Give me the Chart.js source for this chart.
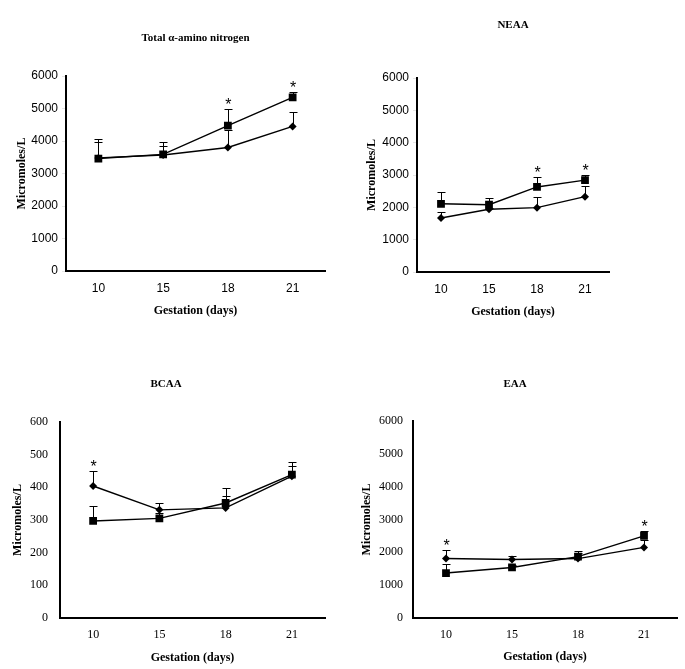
<!DOCTYPE html>
<html>
<head>
<meta charset="utf-8">
<script src="https://cdn.jsdelivr.net/npm/chart.js@4.4.0/dist/chart.umd.min.js"></script>
<style>
  body { margin: 0; background: #fff; width: 685px; height: 669px; position: relative; overflow: hidden; }
  canvas { position: absolute; }
</style>
</head>
<body>
<canvas id="tan" width="340" height="330" style="left:0;top:0"></canvas>
<canvas id="neaa" width="345" height="330" style="left:340px;top:0"></canvas>
<canvas id="bcaa" width="340" height="334" style="left:0;top:335px"></canvas>
<canvas id="eaa" width="345" height="334" style="left:340px;top:335px"></canvas>
<script>
// Gestation days (x categories)
const days = ['10', '15', '18', '21'];

// Total alpha-amino nitrogen, micromoles/L (mean and SD)
const tanSquare = [3460, 3590, 4470, 5340];
const tanSquareSd = [600, 370, 530, 160];
const tanDiamond = [3480, 3570, 3800, 4450];
const tanDiamondSd = [490, 270, 530, 450];
const tanSig = [false, false, true, true];

// NEAA
const neaaSquare = [2110, 2080, 2630, 2840];
const neaaSquareSd = [350, 210, 310, 170];
const neaaDiamond = [1670, 1940, 1990, 2330];
const neaaDiamondSd = [200, 50, 330, 320];
const neaaSig = [false, false, true, true];

// BCAA
const bcaaSquare = [297, 305, 352, 439];
const bcaaSquareSd = [46, 15, 45, 39];
const bcaaDiamond = [404, 331, 337, 434];
const bcaaDiamondSd = [45, 20, 38, 31];
const bcaaSig = [true, false, false, false];

// EAA
const eaaSquare = [1370, 1540, 1870, 2500];
const eaaSquareSd = [270, 60, 160, 140];
const eaaDiamond = [1810, 1780, 1810, 2150];
const eaaDiamondSd = [260, 120, 180, 240];
const eaaSig = [true, false, false, true];

Chart.defaults.color = '#000';
Chart.defaults.font.family = 'Liberation Serif';

// upper SD bars behind the markers, asterisks above the highest cap
const errorBars = {
  id: 'errorBars',
  beforeDatasetsDraw(chart) {
    const ctx = chart.ctx;
    const y = chart.scales.y;
    ctx.save();
    ctx.strokeStyle = '#000';
    ctx.lineWidth = 1;
    chart.data.datasets.forEach((ds, i) => {
      chart.getDatasetMeta(i).data.forEach((pt, j) => {
        const x = Math.round(pt.x) + 0.5;
        const top = Math.round(y.getPixelForValue(ds.data[j] + ds.sd[j])) + 0.5;
        ctx.beginPath();
        ctx.moveTo(x, pt.y);
        ctx.lineTo(x, top);
        ctx.moveTo(x - 4, top);
        ctx.lineTo(x + 4, top);
        ctx.stroke();
      });
    });
    ctx.restore();
  },
  afterDatasetsDraw(chart, args, opts) {
    const ctx = chart.ctx;
    const y = chart.scales.y;
    ctx.save();
    ctx.fillStyle = '#000';
    ctx.font = '16px "Liberation Sans"';
    ctx.textAlign = 'center';
    ctx.textBaseline = 'alphabetic';
    (opts.sig || []).forEach((on, j) => {
      if (!on) return;
      let top = Infinity;
      let x = 0;
      chart.data.datasets.forEach((ds, i) => {
        const pt = chart.getDatasetMeta(i).data[j];
        x = pt.x;
        top = Math.min(top, y.getPixelForValue(ds.data[j] + ds.sd[j]));
      });
      ctx.fillText('*', x + 0.5, top + 1);
    });
    ctx.restore();
  }
};

function makePanel(id, p) {
  const tickFont = { family: p.tickFamily, size: 12 };
  const bold = { family: 'Liberation Serif', size: 12, weight: 'bold' };
  return new Chart(document.getElementById(id), {
    type: 'line',
    data: {
      labels: days,
      datasets: [{
        label: 'Square',
        data: p.square,
        sd: p.squareSd,
        borderColor: '#000',
        borderWidth: 1.4,
        pointStyle: 'rect',
        pointRadius: 5.5,
        pointBackgroundColor: '#000',
        pointBorderColor: '#000',
        pointBorderWidth: 0,
        tension: 0
      }, {
        label: 'Diamond',
        data: p.diamond,
        sd: p.diamondSd,
        borderColor: '#000',
        borderWidth: 1.4,
        pointStyle: 'rectRot',
        pointRadius: 4,
        pointBackgroundColor: '#000',
        pointBorderColor: '#000',
        pointBorderWidth: 0,
        tension: 0
      }]
    },
    options: {
      responsive: false,
      animation: false,
      layout: { padding: { left: p.padLeft, right: p.padRight, top: 0, bottom: p.padBottom } },
      plugins: {
        legend: { display: false },
        tooltip: { enabled: false },
        title: {
          display: true,
          text: p.title,
          fullSize: p.titleFull,
          color: '#000',
          font: { family: 'Liberation Serif', size: 11, weight: 'bold' },
          padding: { top: p.titleTop, bottom: p.titleBottom }
        },
        errorBars: { sig: p.sig }
      },
      scales: {
        x: {
          offset: true,
          grid: { drawOnChartArea: false, drawTicks: false },
          border: { color: '#000', width: 2 },
          ticks: { font: tickFont, color: '#000', padding: 10 },
          title: { display: true, text: 'Gestation (days)', font: bold, color: '#000', padding: 0 },
          afterFit: s => { s.height = p.xHeight; }
        },
        y: {
          min: 0,
          max: p.yMax,
          grid: { drawOnChartArea: false, drawTicks: p.yTicks, tickLength: 4 },
          border: { color: '#000', width: 2 },
          ticks: {
            stepSize: p.yStep,
            font: tickFont,
            color: '#000',
            padding: p.yPad,
            callback: v => String(v)
          },
          title: { display: true, text: 'Micromoles/L', font: bold, color: '#000', padding: { top: p.yTitlePad, bottom: 0 } },
          afterFit: s => { s.width = p.yWidth; }
        }
      }
    },
    plugins: [errorBars]
  });
}

makePanel('tan', {
  title: 'Total \u03b1-amino nitrogen', titleFull: false, titleTop: 31.4, titleBottom: 31.4,
  square: tanSquare, squareSd: tanSquareSd, diamond: tanDiamond, diamondSd: tanDiamondSd, sig: tanSig,
  yMax: 6000, yStep: 1000, tickFamily: 'Liberation Sans', yTicks: true, yPad: 4,
  padLeft: 10, padRight: 15, padBottom: 11.8, yWidth: 56, yTitlePad: 4.8, xHeight: 47.2
});

makePanel('neaa', {
  title: 'NEAA', titleFull: false, titleTop: 18.4, titleBottom: 46.4,
  square: neaaSquare, squareSd: neaaSquareSd, diamond: neaaDiamond, diamondSd: neaaDiamondSd, sig: neaaSig,
  yMax: 6000, yStep: 1000, tickFamily: 'Liberation Sans', yTicks: true, yPad: 4,
  padLeft: 20, padRight: 76, padBottom: 10.8, yWidth: 57, yTitlePad: 4.8, xHeight: 47.2
});

makePanel('bcaa', {
  title: 'BCAA', titleFull: true, titleTop: 42.4, titleBottom: 31.4,
  square: bcaaSquare, squareSd: bcaaSquareSd, diamond: bcaaDiamond, diamondSd: bcaaDiamondSd, sig: bcaaSig,
  yMax: 600, yStep: 100, tickFamily: 'Liberation Serif', yTicks: false, yPad: 12,
  padLeft: 7, padRight: 15, padBottom: 3.8, yWidth: 53, yTitlePad: 4, xHeight: 47.2
});

makePanel('eaa', {
  title: 'EAA', titleFull: true, titleTop: 42.4, titleBottom: 30.4,
  square: eaaSquare, squareSd: eaaSquareSd, diamond: eaaDiamond, diamondSd: eaaDiamondSd, sig: eaaSig,
  yMax: 6000, yStep: 1000, tickFamily: 'Liberation Serif', yTicks: false, yPad: 10,
  padLeft: 13, padRight: 8, padBottom: 4.8, yWidth: 60, yTitlePad: 7, xHeight: 46.2
});
</script>
</body>
</html>
